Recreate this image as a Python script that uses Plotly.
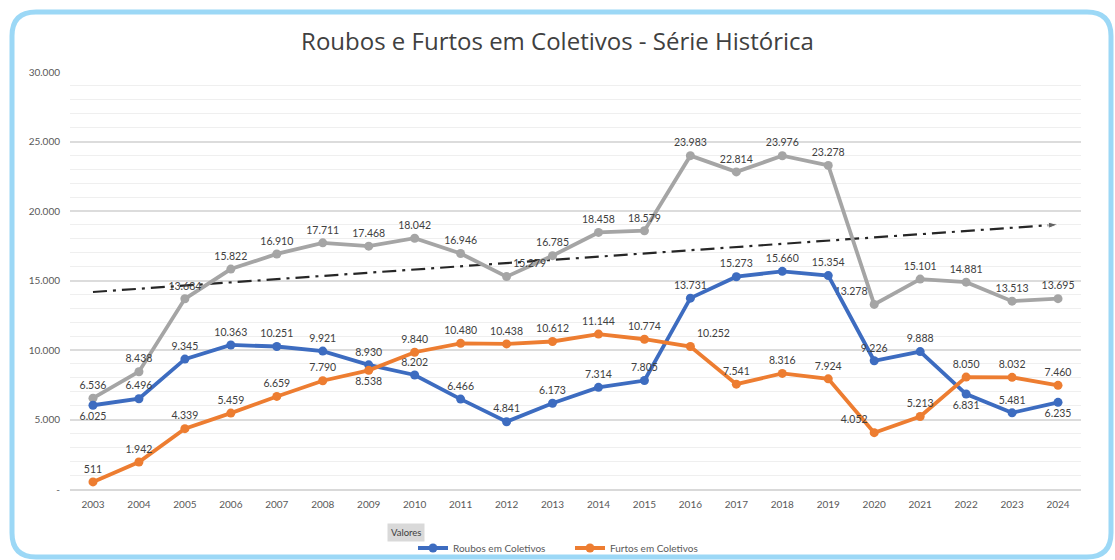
import numpy as np
import plotly.graph_objects as go

years = list(range(2003, 2025))
roubos = [6025, 6496, 9345, 10363, 10251, 9921, 8930, 8202, 6466, 4841, 6173,
          7314, 7805, 13731, 15273, 15660, 15354, 9226, 9888, 6831, 5481, 6235]
furtos = [511, 1942, 4339, 5459, 6659, 7790, 8538, 9840, 10480, 10438, 10612,
          11144, 10774, 10252, 7541, 8316, 7924, 4052, 5213, 8050, 8032, 7460]
total = [6536, 8438, 13684, 15822, 16910, 17711, 17468, 18042, 16946, 15279, 16785,
         18458, 18579, 23983, 22814, 23976, 23278, 13278, 15101, 14881, 13513, 13695]
y_ticks = [0, 5000, 10000, 15000, 20000, 25000, 30000]

W, H = 1115, 560
L, R, T, B = 70, 1081, 72, 489


def fmt(v):
    return f"{int(round(v)):,}".replace(",", ".")


def px(x):
    return (x - L) / (R - L)


def py(y):
    return (B - y) / (B - T)


BLUE = "#3d6cc0"
ORANGE = "#ed7d31"
GRAY = "#a5a5a5"
LABEL = dict(family="Lato, Roboto, sans-serif", size=10.5, color="#404040")

pos_r = ["top center"] * len(years)
for i in (0, 19, 21):
    pos_r[i] = "bottom center"
pos_f = ["top center"] * len(years)
pos_f[6] = "bottom center"
pos_f[13] = "top right"
pos_f[17] = "top left"
pos_t = ["top center"] * len(years)
pos_t[9] = "top right"
pos_t[17] = "top left"

fig = go.Figure()

# trend line of the total series (linear fit)
coef = np.polyfit(years, total, 1)
tx = [years[0], years[-1]]
ty = list(np.polyval(coef, tx))
fig.add_trace(go.Scatter(
    x=tx, y=ty, mode="lines+markers", showlegend=False, hoverinfo="skip",
    line=dict(color="#262626", width=2.2, dash="14px,6px,3px,6px"),
    marker=dict(symbol="arrow", angleref="previous", size=[0, 10], color="#262626"),
))

fig.add_trace(go.Scatter(
    x=years, y=total, mode="lines+markers+text", showlegend=False,
    line=dict(color=GRAY, width=3.8), marker=dict(color=GRAY, size=9),
    text=[fmt(v) for v in total], textposition=pos_t, textfont=LABEL,
))
fig.add_trace(go.Scatter(
    x=years, y=roubos, mode="lines+markers+text", name="Roubos em Coletivos",
    line=dict(color=BLUE, width=3.8), marker=dict(color=BLUE, size=9),
    text=[fmt(v) for v in roubos], textposition=pos_r, textfont=LABEL,
))
fig.add_trace(go.Scatter(
    x=years, y=furtos, mode="lines+markers+text", name="Furtos em Coletivos",
    line=dict(color=ORANGE, width=3.8), marker=dict(color=ORANGE, size=9),
    text=[fmt(v) for v in furtos], textposition=pos_f, textfont=LABEL,
))

# rounded frame
x0, y0, x1, y1, r = 12, 12, 1111, 557, 24
path = (
    f"M {px(x0 + r)} {py(y0)} L {px(x1 - r)} {py(y0)} "
    f"Q {px(x1)} {py(y0)} {px(x1)} {py(y0 + r)} "
    f"L {px(x1)} {py(y1 - r)} Q {px(x1)} {py(y1)} {px(x1 - r)} {py(y1)} "
    f"L {px(x0 + r)} {py(y1)} Q {px(x0)} {py(y1)} {px(x0)} {py(y1 - r)} "
    f"L {px(x0)} {py(y0 + r)} Q {px(x0)} {py(y0)} {px(x0 + r)} {py(y0)} Z"
)
fig.add_shape(type="path", path=path, xref="paper", yref="paper",
              line=dict(color="#9cd8f6", width=5), layer="below")

fig.add_annotation(
    text="Valores", xref="paper", yref="paper", x=px(406), y=py(532),
    xanchor="center", yanchor="middle",
    showarrow=False, bgcolor="#d9d9d9", borderpad=3,
    font=dict(family="Lato, sans-serif", size=9.5, color="#404040"),
)

fig.update_layout(
    width=W, height=H,
    margin=dict(l=L, r=W - R, t=T, b=H - B, autoexpand=False),
    paper_bgcolor="white", plot_bgcolor="white",
    title=dict(
        text="Roubos e Furtos em Coletivos - Série Histórica",
        x=0.5, xanchor="center", y=1 - 42 / H, yanchor="middle",
        font=dict(family="Open Sans, sans-serif", size=24, color="#404040"),
    ),
    xaxis=dict(
        range=[years[0] - 0.5, years[-1] + 0.5], tickvals=years,
        ticktext=[str(y) for y in years], showgrid=False, zeroline=False,
        showline=True, linecolor="#d9d9d9", linewidth=1.5, ticks="",
        ticklabelstandoff=5,
        tickfont=dict(family="Lato, sans-serif", size=10, color="#595959"),
    ),
    yaxis=dict(
        range=[0, 30000], tickvals=y_ticks,
        ticktext=["-"] + [fmt(v) for v in y_ticks[1:]],
        showgrid=True, gridcolor="#dcdcdc", gridwidth=1.5, zeroline=False,
        ticklabelstandoff=9,
        minor=dict(dtick=1000, showgrid=True, gridcolor="#efefef", gridwidth=1),
        tickfont=dict(family="Lato, sans-serif", size=10, color="#595959"),
    ),
    legend=dict(
        orientation="h", x=px(413), xanchor="left", y=py(548), yanchor="middle",
        font=dict(family="Lato, sans-serif", size=10, color="#595959"),
        bgcolor="rgba(0,0,0,0)", entrywidth=112,
    ),
    showlegend=True,
)

fig.write_html(
    "out.html",
    config={"displayModeBar": False},
    post_script="document.body.style.margin='0px';document.body.style.overflow='hidden';",
)
